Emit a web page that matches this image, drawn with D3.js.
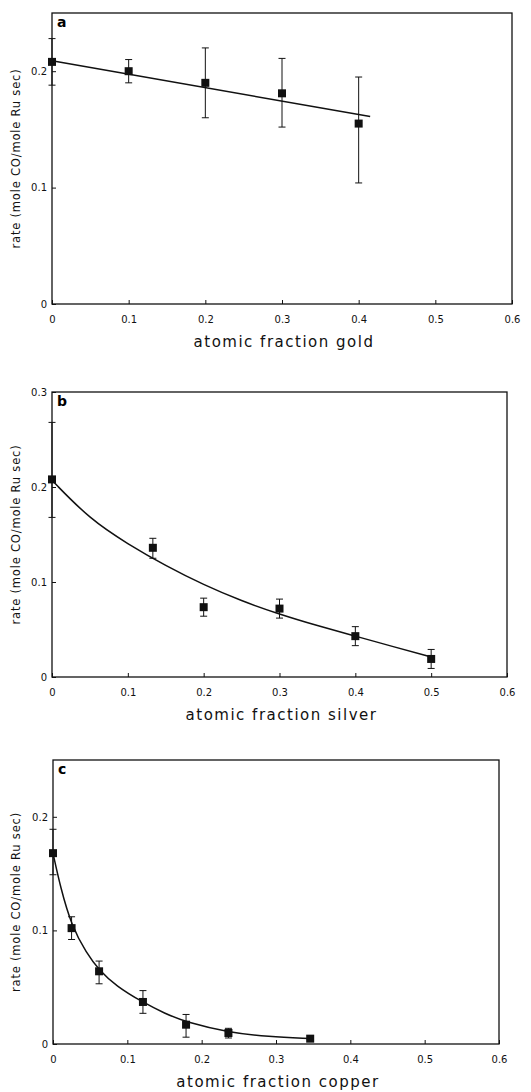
<!DOCTYPE html>
<html>
<head>
<meta charset="utf-8">
<script src="https://cdn.jsdelivr.net/npm/d3@7"></script>
<style>
  body { margin: 0; background: #fff; }
  svg { display: block; }
  .tick text { font-family: "DejaVu Sans", sans-serif; font-size: 10px; fill: #111; }
  .tick line { stroke: #111; }
</style>
</head>
<body>
<div id="chart"></div>
<script>
// panel a: gold
var goldX = [0, 0.1, 0.2, 0.3, 0.4];
var goldRate = [0.208, 0.200, 0.190, 0.181, 0.155];
var goldLo = [0.188, 0.190, 0.160, 0.152, 0.104];
var goldHi = [0.228, 0.210, 0.220, 0.211, 0.195];
var goldFitX = [0, 0.415];
var goldFitY = [0.209, 0.161];

// panel b: silver
var silverX = [0, 0.133, 0.2, 0.3, 0.4, 0.5];
var silverRate = [0.208, 0.136, 0.0735, 0.072, 0.043, 0.019];
var silverLo = [0.168, 0.125, 0.064, 0.062, 0.033, 0.009];
var silverHi = [0.268, 0.146, 0.083, 0.082, 0.053, 0.029];
var silverFitX = [0, 0.05, 0.1, 0.15, 0.2, 0.25, 0.3, 0.35, 0.4, 0.45, 0.5];
var silverFitY = [0.207, 0.166, 0.140, 0.117, 0.097, 0.080, 0.066, 0.054, 0.043, 0.032, 0.021];

// panel c: copper
var copperX = [0, 0.025, 0.062, 0.121, 0.179, 0.236, 0.346];
var copperRate = [0.168, 0.102, 0.064, 0.037, 0.017, 0.0097, 0.0047];
var copperLo = [0.149, 0.092, 0.053, 0.027, 0.006, 0.0053, 0.0047];
var copperHi = [0.189, 0.112, 0.073, 0.047, 0.026, 0.0138, 0.0047];
var copperFitX = [0, 0.01, 0.025, 0.045, 0.062, 0.085, 0.12, 0.15, 0.18, 0.236, 0.29, 0.345];
var copperFitY = [0.168, 0.138, 0.104, 0.080, 0.065, 0.051, 0.037, 0.027, 0.019, 0.0103, 0.0063, 0.0048];

var xTicks = [0, 0.1, 0.2, 0.3, 0.4, 0.5, 0.6];

var panels = [
    { label: 'a', metal: 'gold', x: goldX, y: goldRate, lo: goldLo, hi: goldHi,
      fx: goldFitX, fy: goldFitY, yMax: 0.25, yTicks: [0, 0.1, 0.2],
      left: 52, right: 512, top: 13, bottom: 304 },
    { label: 'b', metal: 'silver', x: silverX, y: silverRate, lo: silverLo, hi: silverHi,
      fx: silverFitX, fy: silverFitY, yMax: 0.3, yTicks: [0, 0.1, 0.2, 0.3],
      left: 52, right: 507, top: 392, bottom: 677 },
    { label: 'c', metal: 'copper', x: copperX, y: copperRate, lo: copperLo, hi: copperHi,
      fx: copperFitX, fy: copperFitY, yMax: 0.25, yTicks: [0, 0.1, 0.2],
      left: 53, right: 499, top: 760, bottom: 1044 }
];

var svg = d3.select('#chart').append('svg')
    .attr('width', 531)
    .attr('height', 1092);

var fmt = function(d) { return d === 0 ? '0' : d3.format('.1f')(d); };

panels.forEach(function(p) {
    var x = d3.scaleLinear().domain([0, 0.6]).range([p.left, p.right]);
    var y = d3.scaleLinear().domain([0, p.yMax]).range([p.bottom, p.top]);
    var g = svg.append('g');

    g.append('g')
        .attr('transform', 'translate(0,' + p.bottom + ')')
        .call(d3.axisBottom(x).tickValues(xTicks).tickFormat(fmt).tickSize(-4).tickPadding(12))
        .call(function(a) { a.select('.domain').remove(); });

    g.append('g')
        .attr('transform', 'translate(' + p.left + ',0)')
        .call(d3.axisLeft(y).tickValues(p.yTicks).tickFormat(fmt).tickSize(-4).tickPadding(5))
        .call(function(a) { a.select('.domain').remove(); });

    g.append('rect')
        .attr('x', p.left).attr('y', p.top)
        .attr('width', p.right - p.left).attr('height', p.bottom - p.top)
        .attr('fill', 'none').attr('stroke', '#111').attr('stroke-width', 1.3);

    g.append('text')
        .attr('x', p.left + 5).attr('y', p.top + 14)
        .attr('font-family', '"DejaVu Sans", sans-serif')
        .attr('font-weight', 'bold').attr('font-size', 14)
        .text(p.label);

    g.append('text')
        .attr('x', (p.left + p.right) / 2 + 2).attr('y', p.bottom + 43)
        .attr('text-anchor', 'middle')
        .attr('font-family', '"DejaVu Sans", sans-serif')
        .attr('font-size', 15).attr('letter-spacing', 1.5)
        .attr('fill', '#111')
        .text('atomic fraction ' + p.metal);

    g.append('text')
        .attr('transform', 'translate(20,' + ((p.top + p.bottom) / 2) + ') rotate(-90)')
        .attr('text-anchor', 'middle')
        .attr('font-family', '"DejaVu Sans", sans-serif')
        .attr('font-size', 11.5).attr('letter-spacing', 0.8)
        .attr('fill', '#111')
        .text('rate (mole CO/mole Ru sec)');

    var fit = p.fx.map(function(v, i) { return [v, p.fy[i]]; });
    g.append('path')
        .datum(fit)
        .attr('fill', 'none').attr('stroke', '#111').attr('stroke-width', 1.5)
        .attr('d', d3.line()
            .x(function(d) { return x(d[0]); })
            .y(function(d) { return y(d[1]); })
            .curve(d3.curveBasis));

    var pts = p.x.map(function(v, i) {
        return { x: v, y: p.y[i], lo: p.lo[i], hi: p.hi[i] };
    });

    var err = g.selectAll('.err').data(pts).enter().append('g')
        .attr('stroke', '#111').attr('stroke-width', 1);
    err.append('line')
        .attr('x1', function(d) { return x(d.x); })
        .attr('x2', function(d) { return x(d.x); })
        .attr('y1', function(d) { return y(d.lo); })
        .attr('y2', function(d) { return y(d.hi); });
    err.append('line')
        .attr('x1', function(d) { return x(d.x) - 3.5; })
        .attr('x2', function(d) { return x(d.x) + 3.5; })
        .attr('y1', function(d) { return y(d.lo); })
        .attr('y2', function(d) { return y(d.lo); });
    err.append('line')
        .attr('x1', function(d) { return x(d.x) - 3.5; })
        .attr('x2', function(d) { return x(d.x) + 3.5; })
        .attr('y1', function(d) { return y(d.hi); })
        .attr('y2', function(d) { return y(d.hi); });

    g.selectAll('.pt').data(pts).enter().append('rect')
        .attr('x', function(d) { return x(d.x) - 4; })
        .attr('y', function(d) { return y(d.y) - 4; })
        .attr('width', 8).attr('height', 8)
        .attr('fill', '#111');
});
</script>
</body>
</html>
